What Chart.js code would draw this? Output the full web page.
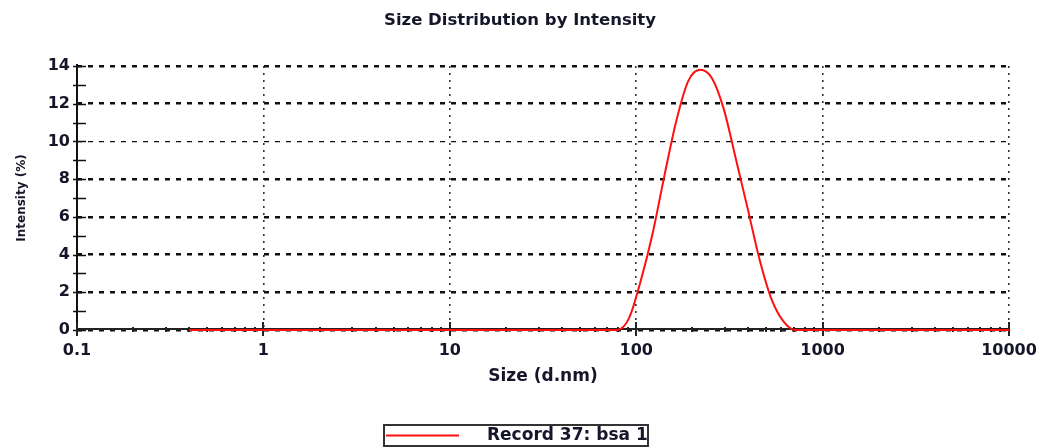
<!DOCTYPE html>
<html><head><meta charset="utf-8">
<script src="https://cdn.jsdelivr.net/npm/chart.js@4/dist/chart.umd.min.js"></script>
<style>html,body{margin:0;padding:0;background:#fff;}#wrap{width:1040px;height:448px;}</style>
</head><body><div id="wrap"><canvas id="c" width="1040" height="448"></canvas></div>
<script>
// Size bins (d.nm)
const sizes = [0.4000,0.4632,0.5365,0.6213,0.7195,0.8332,0.9649,1.117,1.294,1.499,
  1.736,2.010,2.328,2.696,3.122,3.615,4.187,4.849,5.615,6.503,
  7.531,8.721,10.10,11.70,13.54,15.69,18.17,21.04,24.36,28.21,
  32.67,37.84,43.82,50.75,58.77,68.06,78.82,91.28,105.7,122.4,
  141.8,164.2,190.1,220.2,255.0,295.3,342.0,396.1,458.7,531.2,
  615.1,712.4,825.0,955.4,1106,1281,1484,1718,1990,2305,
  2669,3091,3580,4145,4801,5560,6439,7456,8635,10000];
// Intensity (%)
const intensity = [0,0,0,0,0,0,0,0,0,0,
  0,0,0,0,0,0,0,0,0,0,
  0,0,0,0,0,0,0,0,0,0,
  0,0,0,0,0,0,0,0.6,2.6,5.1,
  8.2,11.1,13.2,13.8,13.35,11.7,9.1,6.45,3.75,1.65,
  0.47,0,0,0,0,0,0,0,0,0,
  0,0,0,0,0,0,0,0,0,0];
const xTickValues = [0.1,1,10,100,1000,10000];
const xTickLabels = ['0.1','1','10','100','1000','10000'];
const yTickValues = [0,2,4,6,8,10,12,14];
const yTickLabels = ['0','2','4','6','8','10','12','14'];
const seriesLabel = 'Record 37: bsa 1';
const chartTitle = 'Size Distribution by Intensity';
const xTitle = 'Size (d.nm)';
const yTitle = 'Intensity (%)';

const FONT = '"DejaVu Sans", "Liberation Sans", sans-serif';
const TXT = '#16162a';

const axesPlugin = {
  id: 'axesPlugin',
  beforeDatasetsDraw(chart) {
    const {ctx, chartArea: a, scales: {x, y}} = chart;
    ctx.save();
    ctx.setLineDash([]);
    // y axis line
    ctx.strokeStyle = '#111'; ctx.lineWidth = 2;
    ctx.beginPath(); ctx.moveTo(a.left, a.top - 2); ctx.lineTo(a.left, a.bottom + 2); ctx.stroke();
    // y ticks (major + minor)
    ctx.lineWidth = 1.5;
    for (let v = 0; v <= 14; v++) {
      const py = Math.round(y.getPixelForValue(v)) + 0.5;
      ctx.beginPath(); ctx.moveTo(a.left - 4, py); ctx.lineTo(a.left + 9, py); ctx.stroke();
    }
    // x axis line
    ctx.strokeStyle = '#222'; ctx.lineWidth = 2;
    ctx.beginPath(); ctx.moveTo(a.left, a.bottom - 1); ctx.lineTo(a.right, a.bottom - 1); ctx.stroke();
    // x minor ticks
    ctx.lineWidth = 2;
    for (let i = 0; i < xTickValues.length - 1; i++) {
      for (let k = 2; k <= 9; k++) {
        const px = Math.round(x.getPixelForValue(k * xTickValues[i]));
        ctx.beginPath(); ctx.moveTo(px, a.bottom - 3); ctx.lineTo(px, a.bottom + 2); ctx.stroke();
      }
    }
    // x major ticks
    ctx.strokeStyle = '#222';
    xTickValues.forEach(v => {
      const px = Math.round(x.getPixelForValue(v));
      ctx.beginPath(); ctx.moveTo(px, a.bottom - 8); ctx.lineTo(px, a.bottom + 6); ctx.stroke();
    });
    ctx.restore();
  },
  afterDraw(chart) {
    const {ctx} = chart;
    const ds = chart.data.datasets[0];
    ctx.save();
    ctx.setLineDash([]);
    // legend box
    ctx.strokeStyle = '#333'; ctx.lineWidth = 2;
    ctx.strokeRect(384, 425, 264, 21);
    ctx.strokeStyle = ds.borderColor; ctx.lineWidth = 2;
    ctx.beginPath(); ctx.moveTo(386, 435.5); ctx.lineTo(459, 435.5); ctx.stroke();
    ctx.fillStyle = TXT;
    ctx.font = 'bold 17px ' + FONT;
    ctx.textBaseline = 'middle'; ctx.textAlign = 'left';
    ctx.fillText(ds.label, 487, 436);
    ctx.restore();
  }
};

new Chart(document.getElementById('c'), {
  type: 'line',
  data: {
    datasets: [{
      label: seriesLabel,
      data: sizes.map((s, i) => ({x: s, y: intensity[i]})),
      borderColor: '#ff1010',
      borderWidth: 2,
      pointRadius: 0,
      fill: false,
      cubicInterpolationMode: 'monotone',
      clip: false
    }]
  },
  options: {
    responsive: false,
    animation: false,
    devicePixelRatio: 1,
    layout: {padding: {left: 0, right: 0, top: 0, bottom: 0}},
    plugins: {
      legend: {display: false},
      tooltip: {enabled: false},
      title: {
        display: true, text: chartTitle, color: TXT,
        font: {family: FONT, size: 16.5, weight: 'bold', lineHeight: 1.2},
        padding: {top: 11, bottom: 35.2}
      }
    },
    scales: {
      x: {
        type: 'logarithmic', min: 0.1, max: 10000,
        afterBuildTicks: s => { s.ticks = xTickValues.map(v => ({value: v, major: true})); },
        afterFit: s => { s.height = 118; s.paddingLeft = 0; s.paddingRight = 0; },
        ticks: {
          autoSkip: false, maxRotation: 0, padding: 11, color: TXT,
          font: {family: FONT, size: 16, weight: 'bold'},
          callback: (v, i) => xTickLabels[i]
        },
        grid: {color: '#333', lineWidth: 1.6, drawTicks: false},
        border: {display: false, dash: [2, 5]},
        title: {
          display: true, text: xTitle, color: TXT,
          font: {family: FONT, size: 17, weight: 'bold', lineHeight: 1.2},
          padding: {top: 0, bottom: 61}
        }
      },
      y: {
        type: 'linear', min: 0, max: 14,
        afterBuildTicks: s => { s.ticks = yTickValues.map(v => ({value: v})); },
        afterFit: s => { s.width = 77; },
        ticks: {
          padding: 7, color: TXT,
          font: {family: FONT, size: 16, weight: 'bold'},
          callback: (v, i) => yTickLabels[i]
        },
        grid: {
          color: '#111', drawTicks: false,
          lineWidth: c => (c.tick && c.tick.value === 10 ? 1.3 : 2.6)
        },
        border: {display: false, dash: [5, 6]},
        title: {
          display: true, text: yTitle, color: TXT,
          font: {family: FONT, size: 12, weight: 'bold', lineHeight: 1.2},
          padding: {top: 15, bottom: 0}
        }
      },
      yRight: {
        type: 'linear', position: 'right', min: 0, max: 14,
        afterFit: s => { s.width = 31; },
        ticks: {display: false},
        grid: {display: false, drawTicks: false},
        border: {display: false}
      }
    }
  },
  plugins: [axesPlugin]
});
</script>
</body></html>
